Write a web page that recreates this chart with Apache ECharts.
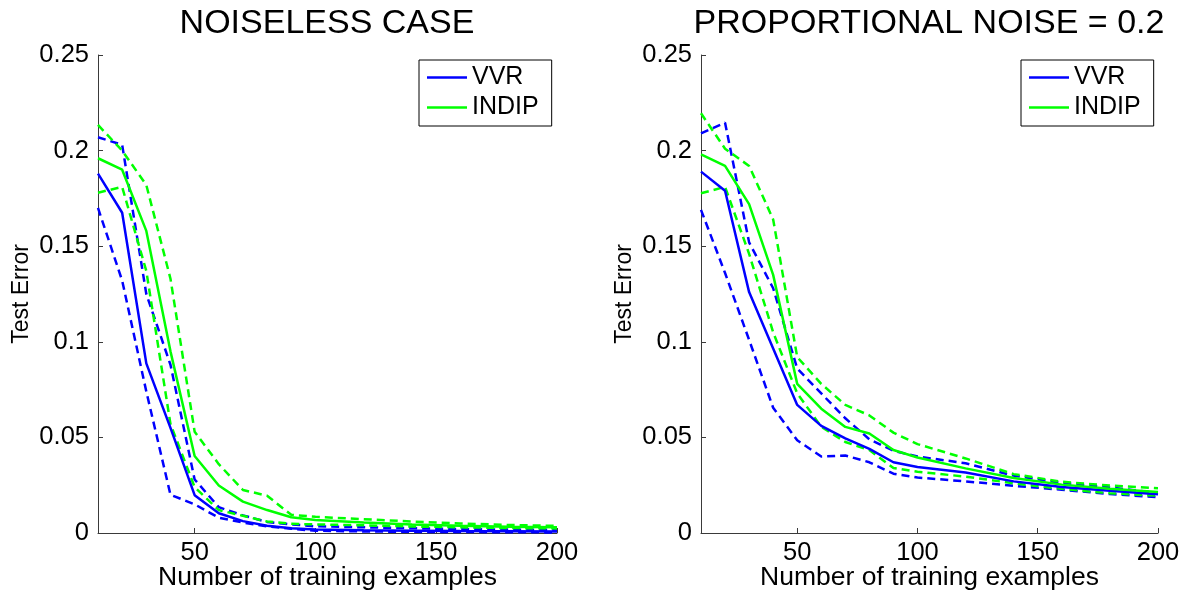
<!DOCTYPE html>
<html>
<head>
<meta charset="utf-8">
<title>Test error vs. number of training examples</title>
<script src="https://cdn.jsdelivr.net/npm/echarts@6/dist/echarts.min.js"></script>
<style>
  html, body { margin: 0; padding: 0; background: #fff; overflow: hidden; }
  #chart { width: 1186px; height: 593px; }
</style>
</head>
<body>
<div id="chart"></div>
<script>
// Training set sizes at which the test error was measured
const xValues = [10, 20, 30, 40, 50, 60, 70, 80, 90, 100, 120, 140, 160, 180, 200];
const xTicks = [50, 100, 150, 200];
const panelTitles = ['NOISELESS CASE', 'PROPORTIONAL NOISE = 0.2'];
const legendNames = ['VVR', 'INDIP'];

// Noiseless case: mean error and the band around it (dashed)
const noiselessVVR      = [0.188, 0.1675, 0.0887, 0.055, 0.0198, 0.0103, 0.0062, 0.0038, 0.0025, 0.0018, 0.0014, 0.0012, 0.0010, 0.0009, 0.0008];
const noiselessVVRUp    = [0.207, 0.203, 0.125, 0.088, 0.028, 0.0135, 0.0092, 0.0058, 0.0045, 0.0035, 0.0030, 0.0025, 0.0020, 0.0018, 0.0016];
const noiselessVVRLow   = [0.170, 0.132, 0.074, 0.020, 0.015, 0.008, 0.0055, 0.0035, 0.0022, 0.0012, 0.0008, 0.0006, 0.0005, 0.0004, 0.0003];
const noiselessINDIP    = [0.196, 0.190, 0.158, 0.095, 0.0403, 0.0248, 0.0164, 0.012, 0.0082, 0.0068, 0.0055, 0.0045, 0.0038, 0.0033, 0.0030];
const noiselessINDIPUp  = [0.2134, 0.200, 0.182, 0.133, 0.053, 0.036, 0.0225, 0.0195, 0.0095, 0.0085, 0.0072, 0.0060, 0.0050, 0.0042, 0.0037];
const noiselessINDIPLow = [0.178, 0.181, 0.137, 0.057, 0.024, 0.012, 0.009, 0.006, 0.0048, 0.0045, 0.0040, 0.0034, 0.0030, 0.0026, 0.0024];

// Proportional noise 0.2: mean error and band
const noisyVVR      = [0.189, 0.179, 0.126, 0.0965, 0.067, 0.056, 0.0495, 0.044, 0.037, 0.0345, 0.0316, 0.027, 0.024, 0.0221, 0.0203];
const noisyVVRUp    = [0.209, 0.2146, 0.152, 0.128, 0.086, 0.073, 0.060, 0.049, 0.043, 0.040, 0.0365, 0.030, 0.0262, 0.0238, 0.021];
const noisyVVRLow   = [0.169, 0.136, 0.101, 0.0655, 0.0485, 0.040, 0.0405, 0.037, 0.031, 0.029, 0.027, 0.0247, 0.0226, 0.0204, 0.0187];
const noisyINDIP    = [0.198, 0.192, 0.172, 0.135, 0.078, 0.065, 0.0555, 0.052, 0.0434, 0.0395, 0.0338, 0.0288, 0.0253, 0.0231, 0.0215];
const noisyINDIPUp  = [0.2195, 0.201, 0.192, 0.164, 0.092, 0.078, 0.067, 0.0615, 0.0525, 0.0465, 0.039, 0.0308, 0.0268, 0.0248, 0.0234];
const noisyINDIPLow = [0.1777, 0.181, 0.146, 0.105, 0.073, 0.0556, 0.0476, 0.0434, 0.034, 0.032, 0.0295, 0.026, 0.0231, 0.0208, 0.0195];

const BLUE = '#0000ff';
const GREEN = '#00ff00';
const FONT = 'Liberation Sans, Arial, Helvetica, sans-serif';
const AXIS_COLOR = '#3a3a3a';

function pairs(ys) {
  return xValues.map((x, i) => [x, ys[i]]);
}

function lineSeries(name, ys, color, dashed, idx) {
  return {
    type: 'line',
    name: name,
    xAxisIndex: idx,
    yAxisIndex: idx,
    data: pairs(ys),
    symbol: 'none',
    silent: true,
    lineStyle: {
      color: color,
      width: 2.5,
      type: dashed ? [8, 5] : 'solid'
    },
    itemStyle: { color: color },
    z: dashed ? 2 : 3
  };
}

function xAxis(idx) {
  return {
    gridIndex: idx,
    type: 'value',
    min: 10,
    max: 200,
    name: 'Number of training examples',
    nameLocation: 'middle',
    nameGap: 31,
    nameMoveOverlap: false,
    nameTextStyle: { fontSize: 26.5, color: '#000', fontFamily: FONT },
    axisLine: { show: true, lineStyle: { color: AXIS_COLOR, width: 1 } },
    axisTick: { show: true, inside: true, length: 5, customValues: xTicks, lineStyle: { color: AXIS_COLOR } },
    axisLabel: { customValues: xTicks, fontSize: 25.5, color: '#000', fontFamily: FONT, margin: 7 },
    splitLine: { show: false }
  };
}

function yAxis(idx) {
  return {
    gridIndex: idx,
    type: 'value',
    min: 0,
    max: 0.25,
    interval: 0.05,
    name: 'Test Error',
    nameLocation: 'middle',
    nameRotate: 90,
    nameGap: 65,
    nameMoveOverlap: false,
    nameTextStyle: { fontSize: 23, color: '#000', fontFamily: FONT },
    axisLine: { show: true, lineStyle: { color: AXIS_COLOR, width: 1 } },
    axisTick: { show: true, inside: true, length: 5, lineStyle: { color: AXIS_COLOR } },
    axisLabel: { fontSize: 25.5, color: '#000', fontFamily: FONT, margin: 9 },
    splitLine: { show: false }
  };
}

function legend(left) {
  return {
    data: legendNames,
    orient: 'vertical',
    left: left,
    top: 60,
    icon: 'rect',
    itemWidth: 40,
    itemHeight: 2.5,
    itemGap: 5,
    padding: [5, 13, 6, 8],
    borderColor: '#000',
    borderWidth: 1,
    backgroundColor: '#fff',
    selectedMode: false,
    textStyle: { fontSize: 25, color: '#000', fontFamily: FONT, lineHeight: 25 }
  };
}

const chart = echarts.init(document.getElementById('chart'), null, { renderer: 'canvas' });

const gridBase = { top: 55, bottom: 60, containLabel: false, outerBoundsMode: 'none' };

chart.setOption({
  animation: false,
  backgroundColor: '#fff',
  title: [
    { text: panelTitles[0], left: 327, top: 7, textAlign: 'center', padding: 0,
      textStyle: { fontSize: 34, fontWeight: 'normal', color: '#000', fontFamily: FONT } },
    { text: panelTitles[1], left: 929, top: 7, textAlign: 'center', padding: 0,
      textStyle: { fontSize: 34, fontWeight: 'normal', color: '#000', fontFamily: FONT } }
  ],
  legend: [legend(419), legend(1021)],
  grid: [
    Object.assign({ left: 98, right: 629 }, gridBase),
    Object.assign({ left: 701, right: 28 }, gridBase)
  ],
  xAxis: [xAxis(0), xAxis(1)],
  yAxis: [yAxis(0), yAxis(1)],
  series: [
    lineSeries('VVR upper', noiselessVVRUp, BLUE, true, 0),
    lineSeries('VVR lower', noiselessVVRLow, BLUE, true, 0),
    lineSeries('INDIP upper', noiselessINDIPUp, GREEN, true, 0),
    lineSeries('INDIP lower', noiselessINDIPLow, GREEN, true, 0),
    lineSeries('VVR', noiselessVVR, BLUE, false, 0),
    lineSeries('INDIP', noiselessINDIP, GREEN, false, 0),

    lineSeries('VVR upper', noisyVVRUp, BLUE, true, 1),
    lineSeries('VVR lower', noisyVVRLow, BLUE, true, 1),
    lineSeries('INDIP upper', noisyINDIPUp, GREEN, true, 1),
    lineSeries('INDIP lower', noisyINDIPLow, GREEN, true, 1),
    lineSeries('VVR', noisyVVR, BLUE, false, 1),
    lineSeries('INDIP', noisyINDIP, GREEN, false, 1)
  ]
});
</script>
</body>
</html>
